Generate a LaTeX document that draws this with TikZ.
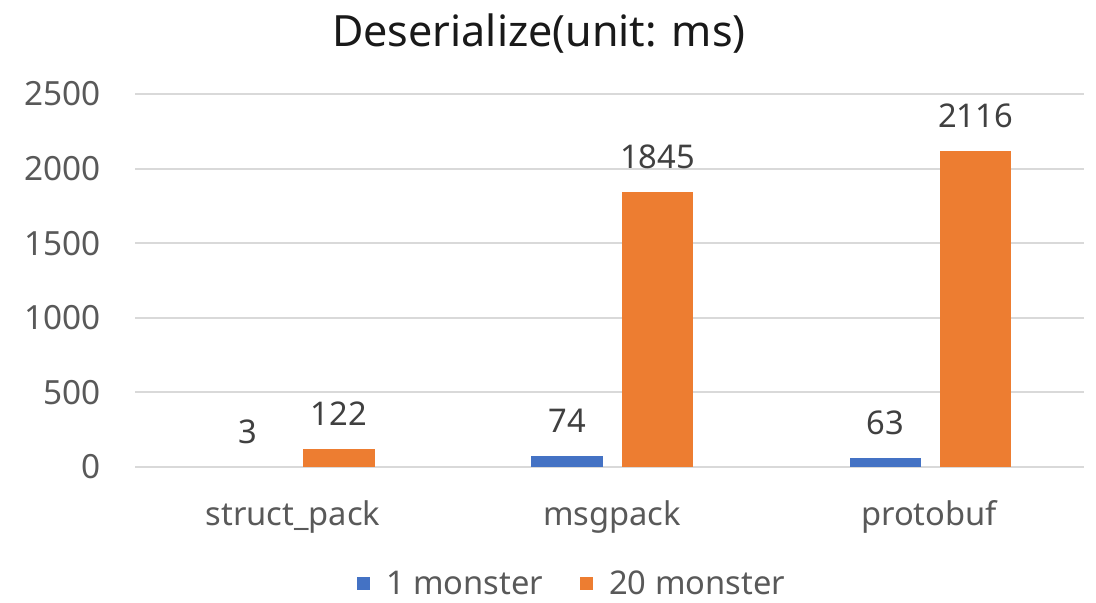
\documentclass[tikz,border=0pt]{standalone}
\usepackage{fontspec}
\setmainfont{Noto Sans}
\definecolor{barblue}{HTML}{4472C4}
\definecolor{barorange}{HTML}{ED7D31}
\definecolor{gridgray}{HTML}{D9D9D9}
\definecolor{ticktext}{HTML}{595959}
\definecolor{valtext}{HTML}{404040}
\tikzset{
  ticklab/.style={anchor=east, text=ticktext, font=\fontsize{25}{28}\selectfont, inner sep=0pt},
  vallab/.style={anchor=center, text=valtext, font=\fontsize{24.5}{28}\selectfont, inner sep=0pt},
  catlab/.style={anchor=center, text=ticktext, font=\fontsize{24.5}{28}\selectfont, inner sep=0pt},
  gridline/.style={draw=gridgray, line width=1.5pt},
  bluebar/.style={fill=barblue, draw=none},
  orangebar/.style={fill=barorange, draw=none},
}
\begin{document}
\begin{tikzpicture}[x=0.75pt,y=-0.75pt]
\useasboundingbox (0,0) rectangle (1096,603);
% title
\node[font=\fontsize{32.3}{38}\selectfont, text=black!90, inner sep=0pt] (title) at (539,34) {Deserialize(unit: ms)};
% gridlines and tick labels
\foreach \v/\lab in {0/0,1/500,2/1000,3/1500,4/2000,5/2500}{
  \coordinate (gl\v) at (135,{467-74.6*\v});
  \coordinate (gr\v) at (1084,{467-74.6*\v});
  \draw[gridline] (gl\v) -- (gr\v);
  \node[ticklab] (t\v) at (101,{467-74.6*\v}) {\lab};
}
% bars (value * 0.1492 px)
\def\s{0.1492}
\fill[orangebar] (303,467) rectangle (375,{467-122*\s});
\fill[bluebar] (531,467) rectangle (603,{467-74*\s});
\fill[orangebar] (622,467) rectangle (693,{467-1845*\s});
\fill[bluebar] (850,467) rectangle (921,{467-63*\s});
\fill[orangebar] (940,467) rectangle (1011,{467-2116*\s});
% value labels
\node[vallab] (v1) at (248,432) {3};
\node[vallab] (v2) at (339,{467-122*\s-35}) {122};
\node[vallab] (v3) at (567,{467-74*\s-35}) {74};
\node[vallab] (v4) at (657.5,{467-1845*\s-35}) {1845};
\node[vallab] (v5) at (885.5,{467-63*\s-35}) {63};
\node[vallab] (v6) at (975.5,{467-2116*\s-35}) {2116};
% category labels
\node[catlab] (c1) at (293,517) {struct\_pack};
\node[catlab] (c2) at (612,517) {msgpack};
\node[catlab] (c3) at (929,517) {protobuf};
% legend
\fill[barblue] (357,577) rectangle (370,590);
\node[catlab, anchor=west] (l1) at (386,583) {1 monster};
\fill[barorange] (580,577) rectangle (593,590);
\node[catlab, anchor=west] (l2) at (609,583) {20 monster};
\end{tikzpicture}
\end{document}
